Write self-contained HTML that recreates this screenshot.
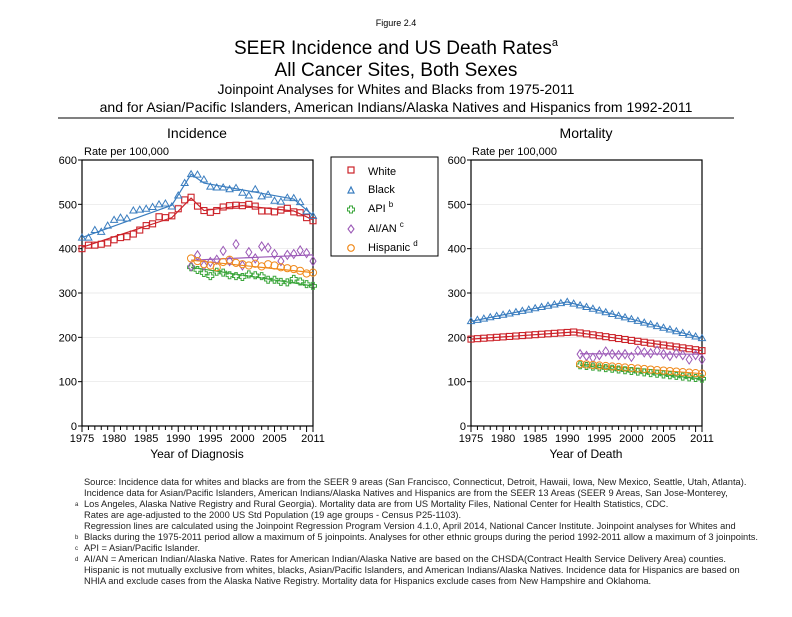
<!DOCTYPE html>
<html><head><meta charset="utf-8"><style>
body{margin:0;background:#fff;font-family:"Liberation Sans",Arial,sans-serif}
</style></head><body>
<svg id="s" width="792" height="612" xmlns="http://www.w3.org/2000/svg" font-family="Liberation Sans, Arial, sans-serif">
<text x="396" y="26" font-size="9" text-anchor="middle">Figure 2.4</text>
<text x="396" y="54" font-size="19" text-anchor="middle">SEER Incidence and US Death Rates<tspan font-size="11" dy="-8">a</tspan></text>
<text x="396" y="76" font-size="19" text-anchor="middle">All Cancer Sites, Both Sexes</text>
<text x="396" y="94" font-size="14" text-anchor="middle">Joinpoint Analyses for Whites and Blacks from 1975-2011</text>
<text x="396" y="112" font-size="14" text-anchor="middle">and for Asian/Pacific Islanders, American Indians/Alaska Natives and Hispanics from 1992-2011</text>
<line x1="58" y1="118" x2="734" y2="118" stroke="#000" stroke-width="1"/>
<text x="197" y="138" font-size="14" text-anchor="middle">Incidence</text>
<text x="586" y="138" font-size="14" text-anchor="middle">Mortality</text>
<text x="84" y="155" font-size="11">Rate per 100,000</text>
<text x="472" y="155" font-size="11">Rate per 100,000</text>
<text x="197" y="458" font-size="12" text-anchor="middle">Year of Diagnosis</text>
<text x="586" y="458" font-size="12" text-anchor="middle">Year of Death</text>
<g id="g"></g>
<rect x="331" y="157" width="107" height="99" fill="none" stroke="#000"/>
<rect x="348" y="167" width="6" height="6" fill="none" stroke="#cc2229" stroke-width="1.2"/><text x="368" y="175" font-size="11">White</text>
<path d="M348,193 L351,187 L354,193 Z" fill="none" stroke="#3a7dbf" stroke-width="1.2"/><text x="368" y="193" font-size="11">Black</text>
<path d="M349.5,206h3v2h2v3h-2v2h-3v-2h-2v-3h2z" fill="none" stroke="#3aa53a" stroke-width="1"/><text x="368" y="212" font-size="11">API <tspan font-size="8" dy="-5">b</tspan></text>
<path d="M351,225 L354,229 L351,233 L348,229 Z" fill="none" stroke="#9b59b6" stroke-width="1.1"/><text x="368" y="232" font-size="11">AI/AN <tspan font-size="8" dy="-5">c</tspan></text>
<circle cx="351" cy="248" r="3.3" fill="none" stroke="#f08a1c" stroke-width="1.2"/><text x="368" y="251" font-size="11">Hispanic <tspan font-size="8" dy="-5">d</tspan></text>
<g font-size="6" fill="#222">
<text x="75" y="506">a</text><text x="75" y="539">b</text><text x="75" y="550">c</text><text x="75" y="561">d</text>
</g>
<g font-size="9" fill="#222" transform="translate(84,0) scale(1.035,1) translate(-84,0)">
<text x="84" y="485">Source:  Incidence data for whites and blacks are from the SEER 9 areas (San Francisco, Connecticut, Detroit, Hawaii, Iowa, New Mexico, Seattle, Utah, Atlanta).</text>
<text x="84" y="496">Incidence data for Asian/Pacific Islanders, American Indians/Alaska Natives and Hispanics are from the SEER 13 Areas (SEER 9 Areas, San Jose-Monterey,</text>
<text x="84" y="507">Los Angeles, Alaska Native Registry and Rural Georgia).  Mortality data are from US Mortality Files, National Center for Health Statistics, CDC.</text>
<text x="84" y="518">Rates are age-adjusted to the 2000 US Std Population (19 age groups - Census P25-1103).</text>
<text x="84" y="529">Regression lines are calculated using the Joinpoint Regression Program Version 4.1.0, April 2014, National Cancer Institute.  Joinpoint analyses for Whites and</text>
<text x="84" y="540">Blacks during the 1975-2011 period allow a maximum of 5 joinpoints. Analyses for other ethnic groups during the period 1992-2011 allow a maximum of 3 joinpoints.</text>
<text x="84" y="551">API = Asian/Pacific Islander.</text>
<text x="84" y="562">AI/AN = American Indian/Alaska Native.  Rates for American Indian/Alaska Native are based on the CHSDA(Contract Health Service Delivery Area) counties.</text>
<text x="84" y="573">Hispanic is not mutually exclusive from whites, blacks, Asian/Pacific Islanders, and American Indians/Alaska Natives.  Incidence data for Hispanics are based on</text>
<text x="84" y="584">NHIA and exclude cases from the Alaska Native Registry.  Mortality data for Hispanics exclude cases from New Hampshire and Oklahoma.</text>
</g>
</svg>
<script>
var g=document.getElementById('g'),h='';
var C={w:'#cc2229',b:'#3a7dbf',a:'#3aa53a',n:'#9b59b6',h:'#f08a1c'};
function mk(t,x,y){var c=C[t];
 if(t=='w')return '<rect x="'+(x-3)+'" y="'+(y-3)+'" width="6" height="6" fill="none" stroke="'+c+'" stroke-width="1.1"/>';
 if(t=='b')return '<path d="M'+(x-3.5)+','+(y+2.5)+' L'+x+','+(y-3.5)+' L'+(x+3.5)+','+(y+2.5)+' Z" fill="none" stroke="'+c+'" stroke-width="1"/>';
 if(t=='a')return '<path d="M'+(x-1.3)+','+(y-3.5)+'h2.6v2.2h2.2v2.6h-2.2v2.2h-2.6v-2.2h-2.2v-2.6h2.2z" fill="none" stroke="'+c+'" stroke-width="1"/>';
 if(t=='n')return '<path d="M'+x+','+(y-4.5)+' L'+(x+3)+','+y+' L'+x+','+(y+4.5)+' L'+(x-3)+','+y+' Z" fill="none" stroke="'+c+'" stroke-width="1"/>';
 return '<circle cx="'+x+'" cy="'+y+'" r="3.6" fill="none" stroke="'+c+'" stroke-width="1"/>';}
function chart(x0,x1,D,F){
 var y0=426,sy=(426-160)/600,X=function(yr){return x0+(yr-1975)*(x1-x0)/36},Y=function(v){return y0-v*sy};
 for(var v=100;v<=600;v+=100)h+='<line x1="'+x0+'" x2="'+x1+'" y1="'+Y(v)+'" y2="'+Y(v)+'" stroke="#e4e4e4" stroke-width="0.7"/>';
 h+='<rect x="'+x0+'" y="160" width="'+(x1-x0)+'" height="266" fill="none" stroke="#000" stroke-width="1.2"/>';
 for(v=0;v<=600;v+=100)h+='<line x1="'+(x0-4)+'" x2="'+x0+'" y1="'+Y(v)+'" y2="'+Y(v)+'" stroke="#000"/><text x="'+(x0-5)+'" y="'+(Y(v)+4)+'" font-size="11" text-anchor="end">'+v+'</text>';
 for(var yr=1975;yr<=2011;yr++){h+='<line x1="'+X(yr)+'" x2="'+X(yr)+'" y1="426" y2="'+(yr%5==0||yr==2011?432:430)+'" stroke="#000"/>';}
 [1975,1980,1985,1990,1995,2000,2005,2011].forEach(function(yr){h+='<text x="'+X(yr)+'" y="442" font-size="11" text-anchor="middle">'+yr+'</text>'});
 for(var k in F){var p=F[k].map(function(q){return X(q[0])+','+Y(q[1])}).join(' ');h+='<polyline points="'+p+'" fill="none" stroke="'+C[k]+'" stroke-width="1.2"/>';}
 for(k in D){var s=D[k][0];D[k][1].forEach(function(v,i){h+=mk(k,X(s+i),Y(v))});}
}
chart(82,313,{
 w:[1975,[400,408,408,410,413,420,425,427,433,442,452,456,472,470,474,490,510,516,496,486,482,486,494,497,498,497,500,496,485,485,483,487,491,483,481,470,463]],
 b:[1975,[425,425,442,438,452,465,470,468,486,488,490,494,500,502,495,520,548,568,567,556,540,538,538,534,537,526,520,534,518,522,508,506,515,514,505,484,474]],
 a:[1992,[358,352,345,338,348,346,340,338,336,342,340,338,330,330,325,324,332,326,320,316]],
 n:[1992,[360,385,362,370,375,395,372,410,362,392,378,405,402,388,372,386,388,396,390,372]],
 h:[1992,[378,372,365,362,358,370,375,368,365,362,366,360,365,362,358,356,354,350,344,346]]
},{
 w:[[1975,403],[1989,470],[1992,514],[1994,486],[2000,497],[2008,485],[2011,465]],
 b:[[1975,425],[1989,498],[1992,568],[1994,548],[2008,512],[2011,475]],
 a:[[1992,358],[2011,316]],n:[[1992,374],[2011,386]],h:[[1992,374],[2011,346]]
});
var mw=[],mb=[],ma=[],mn=[],mh=[];
for(var i=0;i<37;i++){var yr=1975+i;
 mw.push(yr<=1991?196+(yr-1975)*1:212-(yr-1991)*2.1);
 mb.push(yr<=1990?280-(1990-yr)*2.9:280-(yr-1990)*3.9);}
var an=[162,158,154,160,168,162,160,162,156,170,166,164,170,162,158,164,160,150,160,150];
for(i=0;i<20;i++){ma.push(137-i*1.6);mh.push(140-i*1.15);mn.push(an[i]);}
chart(471,702,{w:[1975,mw],b:[1975,mb],a:[1992,ma],n:[1992,mn],h:[1992,mh]},
 {w:[[1975,196],[1991,212],[2011,170]],b:[[1975,236],[1990,280],[2011,198]],a:[[1992,137],[2011,106]],n:[[1992,163],[2011,162]],h:[[1992,140],[2011,118]]});
g.innerHTML=h;
</script>
</body></html>
